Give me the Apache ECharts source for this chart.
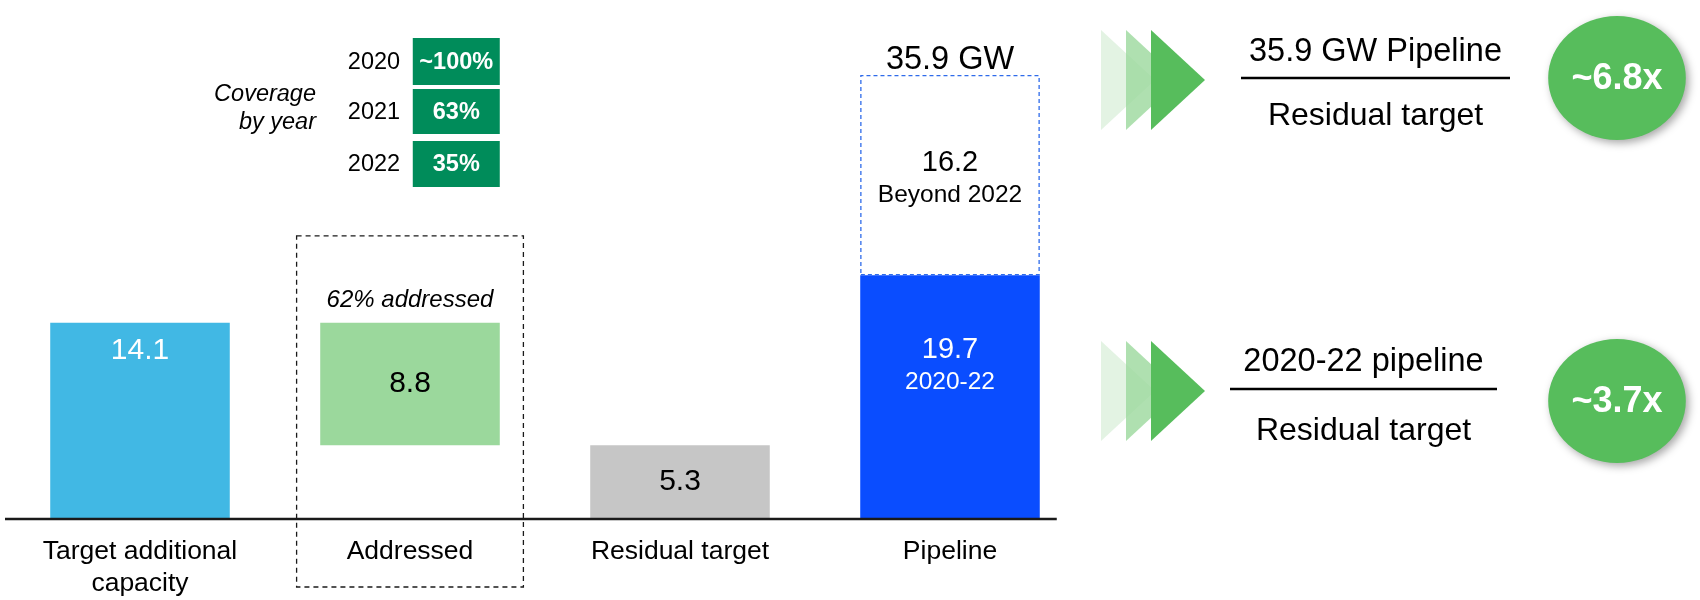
<!DOCTYPE html>
<html>
<head>
<meta charset="utf-8">
<script src="https://cdn.jsdelivr.net/npm/echarts@6/dist/echarts.min.js"></script>
<style>
html,body{margin:0;padding:0;background:#fff;}
#main{width:1700px;height:600px;}
</style>
</head>
<body>
<div id="main"></div>
<script>
// ---- data ----
const categories = ['Target additional\ncapacity', 'Addressed', 'Residual target', 'Pipeline'];
const mainValues = [14.1, 8.8, 5.3, null];          // GW
const pipeline2020to22 = [null, null, null, 19.7];  // GW
const pipelineBeyond2022 = [null, null, null, 16.2];// GW
const addressedShare = '62% addressed';
const years = ['2020', '2021', '2022'];
const coverage = ['~100%', '63%', '35%'];
const ratioNumerators = ['35.9 GW Pipeline', '2020-22 pipeline'];
const ratioDenominators = ['Residual target', 'Residual target'];
const ratios = ['~6.8x', '~3.7x'];

const FONT = 'Liberation Sans, Arial, sans-serif';
const barColors = ['#41B8E4', '#9BD89C', '#C6C6C6'];
const labelColors = ['#ffffff', '#000000', '#000000'];

// floating base for the waterfall (addressed bar sits on top of residual)
const base = [0, mainValues[0] - mainValues[1], 0, null];

const chart = echarts.init(document.getElementById('main'), null, {renderer: 'canvas'});

const option = {
  animation: false,
  backgroundColor: '#ffffff',
  grid: {left: 5, right: 615, top: 18, bottom: 74, containLabel: false},
  xAxis: {
    type: 'category',
    data: categories,
    axisLine: {show: false},
    axisTick: {show: false},
    axisLabel: {fontSize: 26.5, color: '#000', fontFamily: FONT, lineHeight: 32, margin: 17, interval: 0}
  },
  yAxis: [
    {type: 'value', min: 0, max: 36, show: false},
    {type: 'value', min: 0, max: 40.5, show: false}
  ],
  series: [
    {
      name: 'base', type: 'bar', stack: 'a', barWidth: '66.5%', barGap: '-100%', silent: true,
      itemStyle: {color: 'transparent'},
      data: base.map(v => v == null ? '-' : v)
    },
    {
      name: 'main', type: 'bar', stack: 'a', barWidth: '66.5%', barGap: '-100%',
      data: mainValues.map((v, i) => v == null ? '-' : {
        value: v,
        itemStyle: {color: barColors[i]},
        label: {
          show: true,
          position: i === 0 ? 'insideTop' : 'inside',
          distance: 13,
          color: labelColors[i],
          fontSize: 30,
          fontFamily: FONT,
          formatter: p => p.value.toFixed(1)
        }
      })
    },
    {
      name: '2020-22', type: 'bar', stack: 'p', yAxisIndex: 1, barWidth: '66.5%', barGap: '-100%',
      itemStyle: {color: '#0A4DFF'},
      label: {
        show: true, position: 'insideTop', distance: 58, color: '#fff', fontFamily: FONT,
        formatter: p => '{v|' + p.value.toFixed(1) + '}\n{s|2020-22}',
        rich: {v: {fontSize: 29, lineHeight: 34, color: '#fff', fontFamily: FONT},
               s: {fontSize: 24.5, lineHeight: 30, color: '#fff', fontFamily: FONT}}
      },
      data: pipeline2020to22.map(v => v == null ? '-' : v)
    },
    {
      name: 'Beyond 2022', type: 'bar', stack: 'p', yAxisIndex: 1, barWidth: '66.5%', barGap: '-100%',
      itemStyle: {color: '#ffffff', borderColor: '#2F6BEA', borderWidth: 1.3, borderType: [4, 3]},
      label: {
        show: true, position: 'inside', offset: [0, 3], color: '#000', fontFamily: FONT,
        formatter: p => '{v|' + p.value.toFixed(1) + '}\n{s|Beyond 2022}',
        rich: {v: {fontSize: 29, lineHeight: 34, color: '#000', fontFamily: FONT},
               s: {fontSize: 24.5, lineHeight: 30, color: '#000', fontFamily: FONT}}
      },
      data: pipelineBeyond2022.map(v => v == null ? '-' : v)
    }
  ]
};
chart.setOption(option);

// ---- annotations (positions derived from the axes) ----
function txt(x, y, text, o) {
  o = o || {};
  return {
    type: 'text', x: x, y: y, z: 10,
    style: {
      text: text, fill: o.fill || '#000',
      fontSize: o.size || 24, fontFamily: FONT,
      fontStyle: o.italic ? 'italic' : 'normal',
      fontWeight: o.bold ? 'bold' : 'normal',
      textAlign: o.align || 'center', align: o.align || 'center',
      textVerticalAlign: 'middle', verticalAlign: 'middle'
    }
  };
}

const cx = categories.map((c, i) => chart.convertToPixel({seriesIndex: 1}, [i, 0])[0]);
const band = cx[1] - cx[0];
const yBase = chart.convertToPixel({seriesIndex: 1}, [0, 0])[1];
const yTarget = chart.convertToPixel({seriesIndex: 1}, [0, mainValues[0]])[1];
const pipeTotal = pipeline2020to22[3] + pipelineBeyond2022[3];
const yPipeTop = chart.convertToPixel({seriesIndex: 3}, [3, pipeTotal])[1];
const barHalf = band * 0.3325;

const g = [];
// baseline
g.push({type: 'line', z: 8, shape: {x1: 5, y1: yBase, x2: cx[3] + barHalf + 17, y2: yBase},
        style: {stroke: '#1a1a1a', lineWidth: 2.5}});
// dashed frame around "Addressed"
g.push({
  type: 'rect', z: 5,
  shape: {x: cx[1] - band * 0.42, y: yTarget - 87, width: band * 0.84, height: 587 - (yTarget - 87)},
  style: {fill: 'none', stroke: '#1a1a1a', lineWidth: 1.3, lineDash: [5, 4]}
});
g.push(txt(cx[1], yTarget - 22, addressedShare, {italic: true, size: 24}));
g.push(txt(cx[3], yPipeTop - 15, pipeTotal.toFixed(1) + ' GW', {size: 32.5}));

// coverage by year table
const boxRight = cx[1] + barHalf;
const boxW = 87;
const rowsY = [[38, 85], [89, 134], [141, 187]];
g.push(txt(316, 94, 'Coverage', {italic: true, size: 23.5, align: 'right'}));
g.push(txt(316, 122, 'by year', {italic: true, size: 23.5, align: 'right'}));
years.forEach((yr, i) => {
  const [t, b] = rowsY[i];
  g.push(txt(374, (t + b) / 2 + 1, yr, {size: 23.5}));
  g.push({type: 'rect', z: 5, shape: {x: boxRight - boxW, y: t, width: boxW, height: b - t},
          style: {fill: '#008C5A'}});
  g.push(txt(boxRight - boxW / 2, (t + b) / 2 + 1, coverage[i], {size: 23.5, bold: true, fill: '#fff'}));
});

// right panel: arrows, fractions, ratio bubbles
const panelY = [80, 391];
const numY = [52, 362];
const denY = [116, 431];
const lineX = [[1241, 1510], [1230, 1497]];
const circY = [78, 401];
const triCols = ['#DCF0DC', '#9BD89C', '#57BD5C'];
panelY.forEach((py, k) => {
  [0, 1, 2].forEach(j => {
    const x0 = 1101 + j * 25;
    g.push({type: 'polygon', z: 5 + j,
      shape: {points: [[x0, py - 50], [x0 + 54, py], [x0, py + 50]]},
      style: {fill: triCols[j], opacity: j === 2 ? 1 : 0.8}});
  });
  const mid = (lineX[k][0] + lineX[k][1]) / 2;
  g.push(txt(mid, numY[k], ratioNumerators[k], {size: 32.5}));
  g.push({type: 'line', z: 5, shape: {x1: lineX[k][0], y1: py - 2, x2: lineX[k][1], y2: py - 2},
          style: {stroke: '#000', lineWidth: 2.5}});
  g.push(txt(mid, denY[k], ratioDenominators[k], {size: 32}));
  g.push({type: 'circle', z: 5, x: 1617, y: circY[k], scaleX: 1.11,
          shape: {cx: 0, cy: 0, r: 62},
          style: {fill: '#57BD5C', shadowBlur: 8, shadowOffsetX: 3, shadowOffsetY: 3, shadowColor: 'rgba(0,0,0,0.35)'}});
  g.push(txt(1617, circY[k] + 1, ratios[k], {size: 36, bold: true, fill: '#fff'}));
});

chart.setOption({graphic: {elements: g}});
</script>
</body>
</html>
